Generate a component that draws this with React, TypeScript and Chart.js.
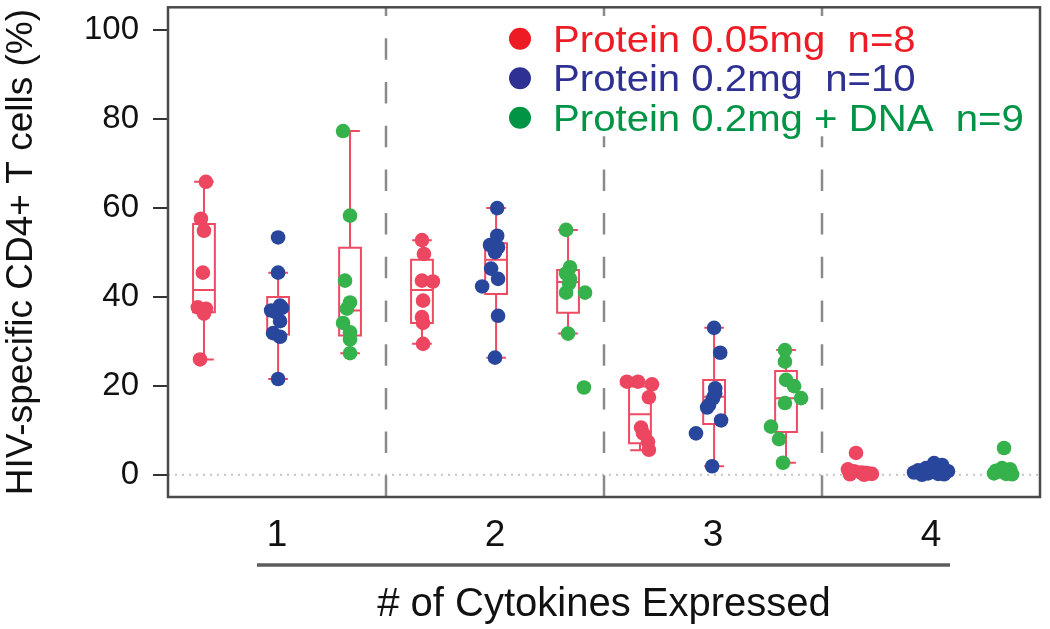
import React, { useEffect, useRef } from 'react';
import { Chart, registerables } from 'chart.js';

Chart.register(...registerables);

const categories = ['1', '2', '3', '4'];
const seriesLabels = ['Protein 0.05mg  n=8', 'Protein 0.2mg  n=10', 'Protein 0.2mg + DNA  n=9'];
const yTickValues = [0, 20, 40, 60, 80, 100];
const dividerValues = [1.5, 2.5, 3.5];
const yTitle = 'HIV-specific CD4+ T cells (%)';
const xTitle = '# of Cytokines Expressed';

// group offsets (position of each treatment inside a cytokine group)
const seriesOffsets = [-0.335, 0.005, 0.335];

// Protein 0.05mg: values per group and horizontal jitter
const lowDoseValues = [
  [65.8, 57.5, 54.8, 45.4, 37.6, 37.3, 36.2, 25.9],
  [52.7, 49.6, 43.6, 43.4, 39.1, 35.4, 34.1, 29.4],
  [20.9, 20.9, 20.3, 17.4, 10.6, 9.3, 7.4, 5.6],
  [4.9, 1.2, 0.8, 0.5, 0.3, 0.2, 0.1, 0.0],
];
const lowDoseJitter = [
  [0.009, -0.014, 0, -0.005, -0.028, 0.009, 0, -0.018],
  [0, 0.009, 0, 0.05, 0.005, 0, 0.005, 0.005],
  [-0.06, -0.009, 0.055, 0.041, 0.005, 0.014, 0.037, 0.041],
  [-0.009, -0.046, -0.018, 0.014, 0.046, 0.064, -0.037, 0.028],
];

// Protein 0.2mg
const midDoseValues = [
  [53.3, 45.4, 36.9, 38.0, 36.5, 34.5, 31.8, 31.0, 21.5, 37.5],
  [59.9, 53.7, 51.6, 51.1, 50.0, 46.3, 44.0, 42.3, 35.7, 26.3],
  [33.0, 27.4, 19.4, 17.2, 15.7, 15.1, 12.2, 9.3, 1.9, 18.3],
  [2.6, 2.2, 1.5, 1.0, 0.8, 0.5, 0.3, 0.2, 0.1, 0.0],
];
const midDoseJitter = [
  [0, 0, -0.032, 0.009, -0.009, 0.009, -0.023, 0.009, 0, 0.018],
  [0.005, 0.005, -0.028, 0.009, -0.005, -0.023, 0.009, -0.064, 0.009, -0.005],
  [0, 0.028, 0.005, -0.005, -0.023, -0.032, 0.032, -0.083, -0.009, 0.005],
  [0.009, 0.046, -0.028, -0.064, 0.073, -0.083, -0.018, 0.028, 0.055, -0.046],
];

// Protein 0.2mg + DNA
const dnaValues = [
  [77.2, 58.2, 43.6, 38.7, 37.3, 34.1, 32.0, 30.4, 27.3],
  [55.0, 46.6, 45.2, 44.0, 43.0, 40.9, 40.9, 31.7, 19.6],
  [28.0, 25.4, 21.3, 19.9, 17.2, 16.1, 10.8, 8.0, 2.7],
  [6.0, 1.5, 1.2, 0.9, 0.7, 0.5, 0.3, 0.2, 0.1],
];
const dnaJitter = [
  [-0.032, 0, -0.023, 0, -0.014, -0.032, 0, 0, 0],
  [-0.009, 0.009, -0.009, 0.009, 0.005, -0.009, 0.078, 0, 0.073],
  [-0.005, -0.005, 0, 0.037, 0.069, -0.005, -0.069, -0.032, -0.014],
  [0, -0.009, 0.028, -0.037, -0.028, 0.018, -0.046, 0.009, 0.037],
];

// box statistics per group: [lower whisker, Q1, median, Q3, upper whisker]
const lowDoseBox = [
  [25.9, 36.5, 41.5, 56.3, 65.8],
  [29.4, 34.1, 41.5, 48.3, 52.7],
  [5.5, 7.1, 13.6, 19.8, 20.9],
  [0, 0.2, 0.5, 1.0, 1.8],
];
const midDoseBox = [
  [21.5, 31.5, 36.7, 39.9, 45.4],
  [26.3, 40.6, 48.3, 52.0, 59.9],
  [1.9, 11.4, 17.5, 21.3, 33.0],
  [0, 0.3, 0.7, 1.2, 2.6],
];
const dnaBox = [
  [27.3, 31.3, 36.9, 51.0, 77.2],
  [31.7, 36.4, 43.3, 46.0, 55.0],
  [2.7, 9.6, 17.2, 23.3, 28.0],
  [0, 0.3, 0.7, 1.2, 1.8],
];

const pointColors = ['#ec4660', '#28479c', '#35b24c'];
const legendColors = ['#ed1c24', '#2e3192', '#009444'];
const boxColor = '#ee4a63';
const FONT = "'Liberation Sans', Arial, Helvetica, sans-serif";

const allValues = [lowDoseValues, midDoseValues, dnaValues];
const allJitter = [lowDoseJitter, midDoseJitter, dnaJitter];
const allBoxes = [lowDoseBox, midDoseBox, dnaBox];

function buildPoints(s: number) {
  const pts: { x: number; y: number }[] = [];
  allValues[s].forEach((vals, g) => {
    vals.forEach((v, i) => {
      pts.push({ x: g + 1 + seriesOffsets[s] + allJitter[s][g][i], y: v });
    });
  });
  return pts;
}

const backgroundPlugin = {
  id: 'bgDecor',
  beforeDatasetsDraw(chart: any) {
    const { ctx, chartArea, scales } = chart;
    const x = scales.x;
    const y = scales.y;
    ctx.save();
    // zero dotted line
    ctx.strokeStyle = '#c4c4c4';
    ctx.lineWidth = 2;
    ctx.setLineDash([2, 5]);
    const y0 = y.getPixelForValue(0);
    ctx.beginPath();
    ctx.moveTo(chartArea.left, y0);
    ctx.lineTo(chartArea.right, y0);
    ctx.stroke();
    // dashed group dividers
    ctx.strokeStyle = '#8a8a8a';
    ctx.lineWidth = 2.5;
    ctx.setLineDash([21.5, 22.2]);
    ctx.lineDashOffset = 12.7;
    dividerValues.forEach((d) => {
      const px = Math.round(x.getPixelForValue(d));
      ctx.beginPath();
      ctx.moveTo(px, chartArea.top);
      ctx.lineTo(px, chartArea.bottom);
      ctx.stroke();
    });
    ctx.setLineDash([]);
    ctx.lineDashOffset = 0;
    // box plots
    ctx.strokeStyle = boxColor;
    ctx.lineWidth = 2;
    const halfBox = 0.05;
    const halfCap = 0.045;
    allBoxes.forEach((boxes, s) => {
      boxes.forEach((b, g) => {
        const cx = g + 1 + seriesOffsets[s];
        const xl = x.getPixelForValue(cx - halfBox);
        const xr = x.getPixelForValue(cx + halfBox);
        const xc = x.getPixelForValue(cx);
        const cl = x.getPixelForValue(cx - halfCap);
        const cr = x.getPixelForValue(cx + halfCap);
        const [mn, q1, md, q3, mx] = b.map((v) => y.getPixelForValue(v));
        ctx.beginPath();
        ctx.rect(xl, q3, xr - xl, q1 - q3);
        ctx.moveTo(xl, md);
        ctx.lineTo(xr, md);
        ctx.moveTo(xc, q3);
        ctx.lineTo(xc, mx);
        ctx.moveTo(xc, q1);
        ctx.lineTo(xc, mn);
        ctx.moveTo(cl, mx);
        ctx.lineTo(cr, mx);
        ctx.moveTo(cl, mn);
        ctx.lineTo(cr, mn);
        ctx.stroke();
      });
    });
    ctx.restore();
  },
  afterDatasetsDraw(chart: any) {
    const { ctx, chartArea, scales } = chart;
    const x = scales.x;
    ctx.save();
    // legend
    const lx = chartArea.left + 352;
    const ly = chartArea.top + 31.5;
    ctx.fillStyle = '#ffffff';
    ctx.fillRect(lx - 18, chartArea.top + 9, 480, 120);
    ctx.font = `37px ${FONT}`;
    ctx.textBaseline = 'alphabetic';
    ctx.textAlign = 'left';
    chart.data.datasets.forEach((ds: any, i: number) => {
      const cy = ly + i * 39.5;
      ctx.fillStyle = legendColors[i];
      ctx.beginPath();
      ctx.arc(lx, cy, 11, 0, Math.PI * 2);
      ctx.fill();
      ctx.save();
      ctx.translate(lx + 33, cy + 13);
      ctx.scale(1.085, 1);
      ctx.fillText(ds.label, 0, 0);
      ctx.restore();
    });
    // frame
    ctx.strokeStyle = '#4a4a4a';
    ctx.lineWidth = 2.5;
    ctx.strokeRect(chartArea.left, chartArea.top, chartArea.right - chartArea.left, chartArea.bottom - chartArea.top);
    // underline below category labels
    ctx.strokeStyle = '#5c5c5c';
    ctx.lineWidth = 3.5;
    ctx.beginPath();
    ctx.moveTo(x.getPixelForValue(1) - 20, chartArea.bottom + 68);
    ctx.lineTo(x.getPixelForValue(4) + 19, chartArea.bottom + 68);
    ctx.stroke();
    ctx.restore();
  },
};

export default function App() {
  const canvasRef = useRef<HTMLCanvasElement | null>(null);

  useEffect(() => {
    if (!canvasRef.current) return;
    const chart = new Chart(canvasRef.current, {
      type: 'scatter',
      data: {
        datasets: seriesLabels.map((label, s) => ({
          label,
          data: buildPoints(s),
          backgroundColor: pointColors[s],
          borderWidth: 0,
          pointRadius: 7.3,
          pointHoverRadius: 7.3,
          showLine: false,
        })),
      },
      options: {
        animation: false,
        responsive: true,
        maintainAspectRatio: false,
        layout: { padding: { left: 0, right: 10, top: 7, bottom: 0 } },
        plugins: {
          legend: { display: false },
          tooltip: { enabled: false },
        },
        scales: {
          x: {
            type: 'linear',
            min: 0.5,
            max: 4.5,
            afterBuildTicks: (scale: any) => {
              scale.ticks = categories.map((_, i) => ({ value: i + 1 }));
            },
            afterFit: (scale: any) => {
              scale.height = 132;
              scale.paddingLeft = 0;
              scale.paddingRight = 0;
            },
            grid: { display: false },
            border: { display: false },
            ticks: {
              callback: (v: any) => categories[Number(v) - 1],
              font: { family: FONT, size: 37 },
              color: '#111',
              padding: 9,
              maxRotation: 0,
            },
            title: {
              display: true,
              text: xTitle,
              font: { family: FONT, size: 40 },
              color: '#111',
              padding: { top: 0, bottom: 0 },
            },
          },
          y: {
            min: -5,
            max: 105,
            afterBuildTicks: (scale: any) => {
              scale.ticks = yTickValues.map((v) => ({ value: v }));
            },
            afterFit: (scale: any) => {
              scale.width = 168;
              scale.paddingTop = 0;
              scale.paddingBottom = 0;
            },
            grid: {
              drawOnChartArea: false,
              drawTicks: true,
              tickLength: 15,
              color: '#333',
              lineWidth: 2,
            },
            border: { display: false },
            ticks: {
              font: { family: FONT, size: 33 },
              color: '#111',
              padding: 14,
            },
            title: {
              display: true,
              text: yTitle,
              font: { family: FONT, size: 37 },
              color: '#111',
              padding: { top: 0, bottom: 0 },
            },
          },
        },
      },
      plugins: [backgroundPlugin],
    });
    return () => chart.destroy();
  }, []);

  return (
    <div style={{ position: 'fixed', left: 0, top: 0, width: 1050, height: 629, background: '#fff' }}>
      <canvas ref={canvasRef} />
    </div>
  );
}
